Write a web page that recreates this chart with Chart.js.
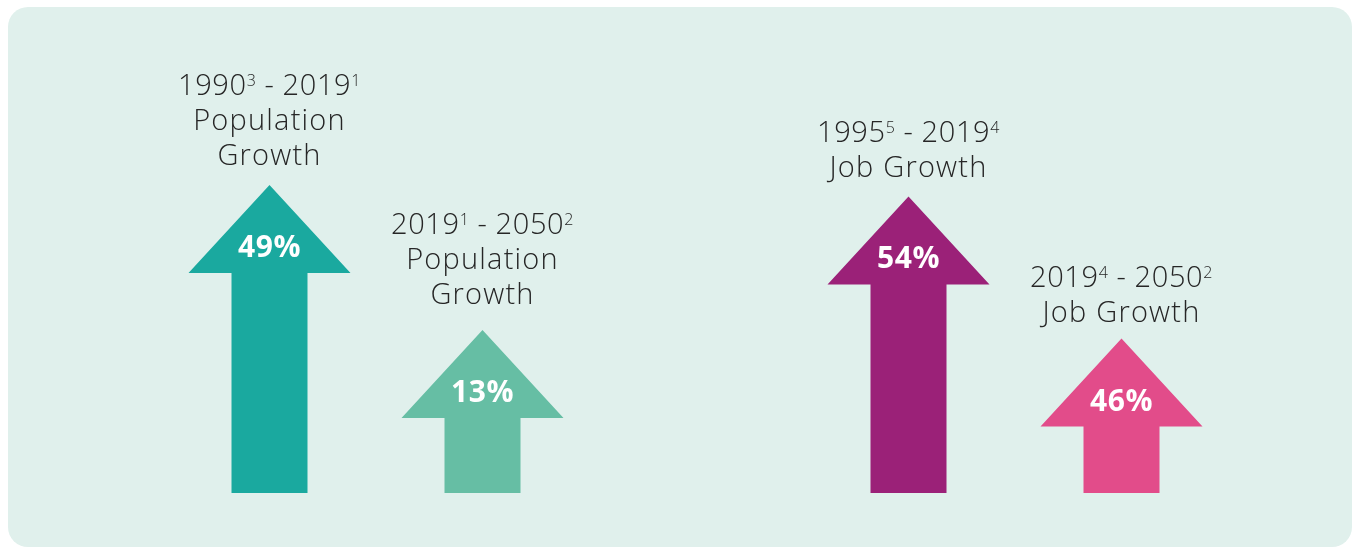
<!DOCTYPE html>
<html>
<head>
<meta charset="utf-8">
<title>Population and Job Growth</title>
<script src="https://cdn.jsdelivr.net/npm/chart.js@4/dist/chart.umd.min.js"></script>
<style>
  html, body { margin: 0; padding: 0; background: #ffffff; }
  #wrap { position: relative; width: 1353px; height: 548px; }
</style>
</head>
<body>
<div id="wrap"><canvas id="growthChart"></canvas></div>
<script>
// Growth arrows: population on the left pair, jobs on the right pair.
// The middle slot is left empty to open a gap between the two groups.

const slots = ['pop-past', 'pop-future', '', 'jobs-past', 'jobs-future'];

const populationGrowth = [49, 13, null, null, null];
const jobGrowth = [null, null, null, 54, 46];

// "start^note - end^note" period line above each arrow
const periodStart = ['1990', '2019', null, '1995', '2019'];
const startNote = ['3', '1', null, '5', '4'];
const periodEnd = ['2019', '2050', null, '2019', '2050'];
const endNote = ['1', '2', null, '4', '2'];
const captionLines = [['Population', 'Growth'], ['Population', 'Growth'], null, ['Job Growth'], ['Job Growth']];

const ARROW_COLORS = ['#1aa99f', '#66bea4', null, '#9b2178', '#e24c8a'];
const PANEL = '#e0f0ec';
const INK = '#262626';
const HEAD_W = 162;
const HEAD_H = 88;
const FONT = '"Open Sans", "DejaVu Sans", sans-serif';
const CAPTION_GAP = [20, 26, null, 19, 17];

// axis ranges (hidden), one per group
const POP_MIN = -27.5, POP_MAX = 92.5;
const JOB_MIN = 37.3, JOB_MAX = 64.5;

const panelBg = {
  id: 'panelBg',
  beforeDraw(chart) {
    const ctx = chart.ctx;
    ctx.save();
    ctx.fillStyle = PANEL;
    ctx.beginPath();
    ctx.roundRect(8, 7, 1344, 540, 20);
    ctx.fill();
    ctx.restore();
  },
};

function drawPeriod(ctx, i, cx, y) {
  const parts = [
    { t: periodStart[i], sup: false },
    { t: startNote[i], sup: true },
    { t: ' - ' + periodEnd[i], sup: false },
    { t: endNote[i], sup: true },
  ];
  const main = '300 29px ' + FONT;
  const small = '300 16px ' + FONT;
  ctx.letterSpacing = '0.6px';
  let total = 0;
  parts.forEach((p) => {
    ctx.font = p.sup ? small : main;
    p.w = ctx.measureText(p.t).width;
    total += p.w;
  });
  let x = cx - total / 2;
  ctx.textAlign = 'left';
  parts.forEach((p) => {
    ctx.font = p.sup ? small : main;
    ctx.fillText(p.t, x, p.sup ? y - 9 : y);
    x += p.w;
  });
}

const arrows = {
  id: 'arrows',
  afterDatasetsDraw(chart) {
    const ctx = chart.ctx;
    ctx.save();
    chart.data.datasets.forEach((ds, di) => {
      const meta = chart.getDatasetMeta(di);
      meta.data.forEach((el, i) => {
        if (ds.data[i] == null) return;
        const { x, y, base, width } = el.getProps(['x', 'y', 'base', 'width'], true);
        const neck = y + HEAD_H;

        // shaft + head
        ctx.fillStyle = ARROW_COLORS[i];
        ctx.beginPath();
        ctx.moveTo(x, y);
        ctx.lineTo(x + HEAD_W / 2, neck);
        ctx.lineTo(x + width / 2, neck);
        ctx.lineTo(x + width / 2, base);
        ctx.lineTo(x - width / 2, base);
        ctx.lineTo(x - width / 2, neck);
        ctx.lineTo(x - HEAD_W / 2, neck);
        ctx.closePath();
        ctx.fill();

        // value inside the head
        ctx.fillStyle = '#ffffff';
        ctx.font = 'bold 30px ' + FONT;
        ctx.letterSpacing = '0.5px';
        ctx.textAlign = 'center';
        ctx.textBaseline = 'alphabetic';
        ctx.fillText(ds.data[i] + '%', x, neck - 16);

        // caption above the tip
        ctx.fillStyle = INK;
        const lines = captionLines[i];
        let ly = y - CAPTION_GAP[i] - 35 * lines.length;
        drawPeriod(ctx, i, x, ly);
        ctx.letterSpacing = '1.2px';
        ctx.font = '300 29px ' + FONT;
        ctx.textAlign = 'center';
        lines.forEach((ln) => {
          ly += 35;
          ctx.fillText(ln, x, ly);
        });
        ctx.letterSpacing = '0px';
      });
    });
    ctx.restore();
  },
};

new Chart(document.getElementById('growthChart'), {
  type: 'bar',
  data: {
    labels: slots,
    datasets: [
      {
        label: 'Population growth',
        data: populationGrowth,
        yAxisID: 'yPop',
        base: POP_MIN,
        grouped: false,
        barThickness: 76,
        backgroundColor: 'rgba(0,0,0,0)',
      },
      {
        label: 'Job growth',
        data: jobGrowth,
        yAxisID: 'yJob',
        base: JOB_MIN,
        grouped: false,
        barThickness: 76,
        backgroundColor: 'rgba(0,0,0,0)',
      },
    ],
  },
  options: {
    responsive: true,
    maintainAspectRatio: false,
    animation: false,
    events: [],
    layout: { padding: { left: 163, right: 125, top: 10, bottom: 55 } },
    scales: {
      x: { display: false },
      yPop: { display: false, min: POP_MIN, max: POP_MAX },
      yJob: { display: false, min: JOB_MIN, max: JOB_MAX },
    },
    plugins: { legend: { display: false }, tooltip: { enabled: false } },
  },
  plugins: [panelBg, arrows],
});
</script>
</body>
</html>
